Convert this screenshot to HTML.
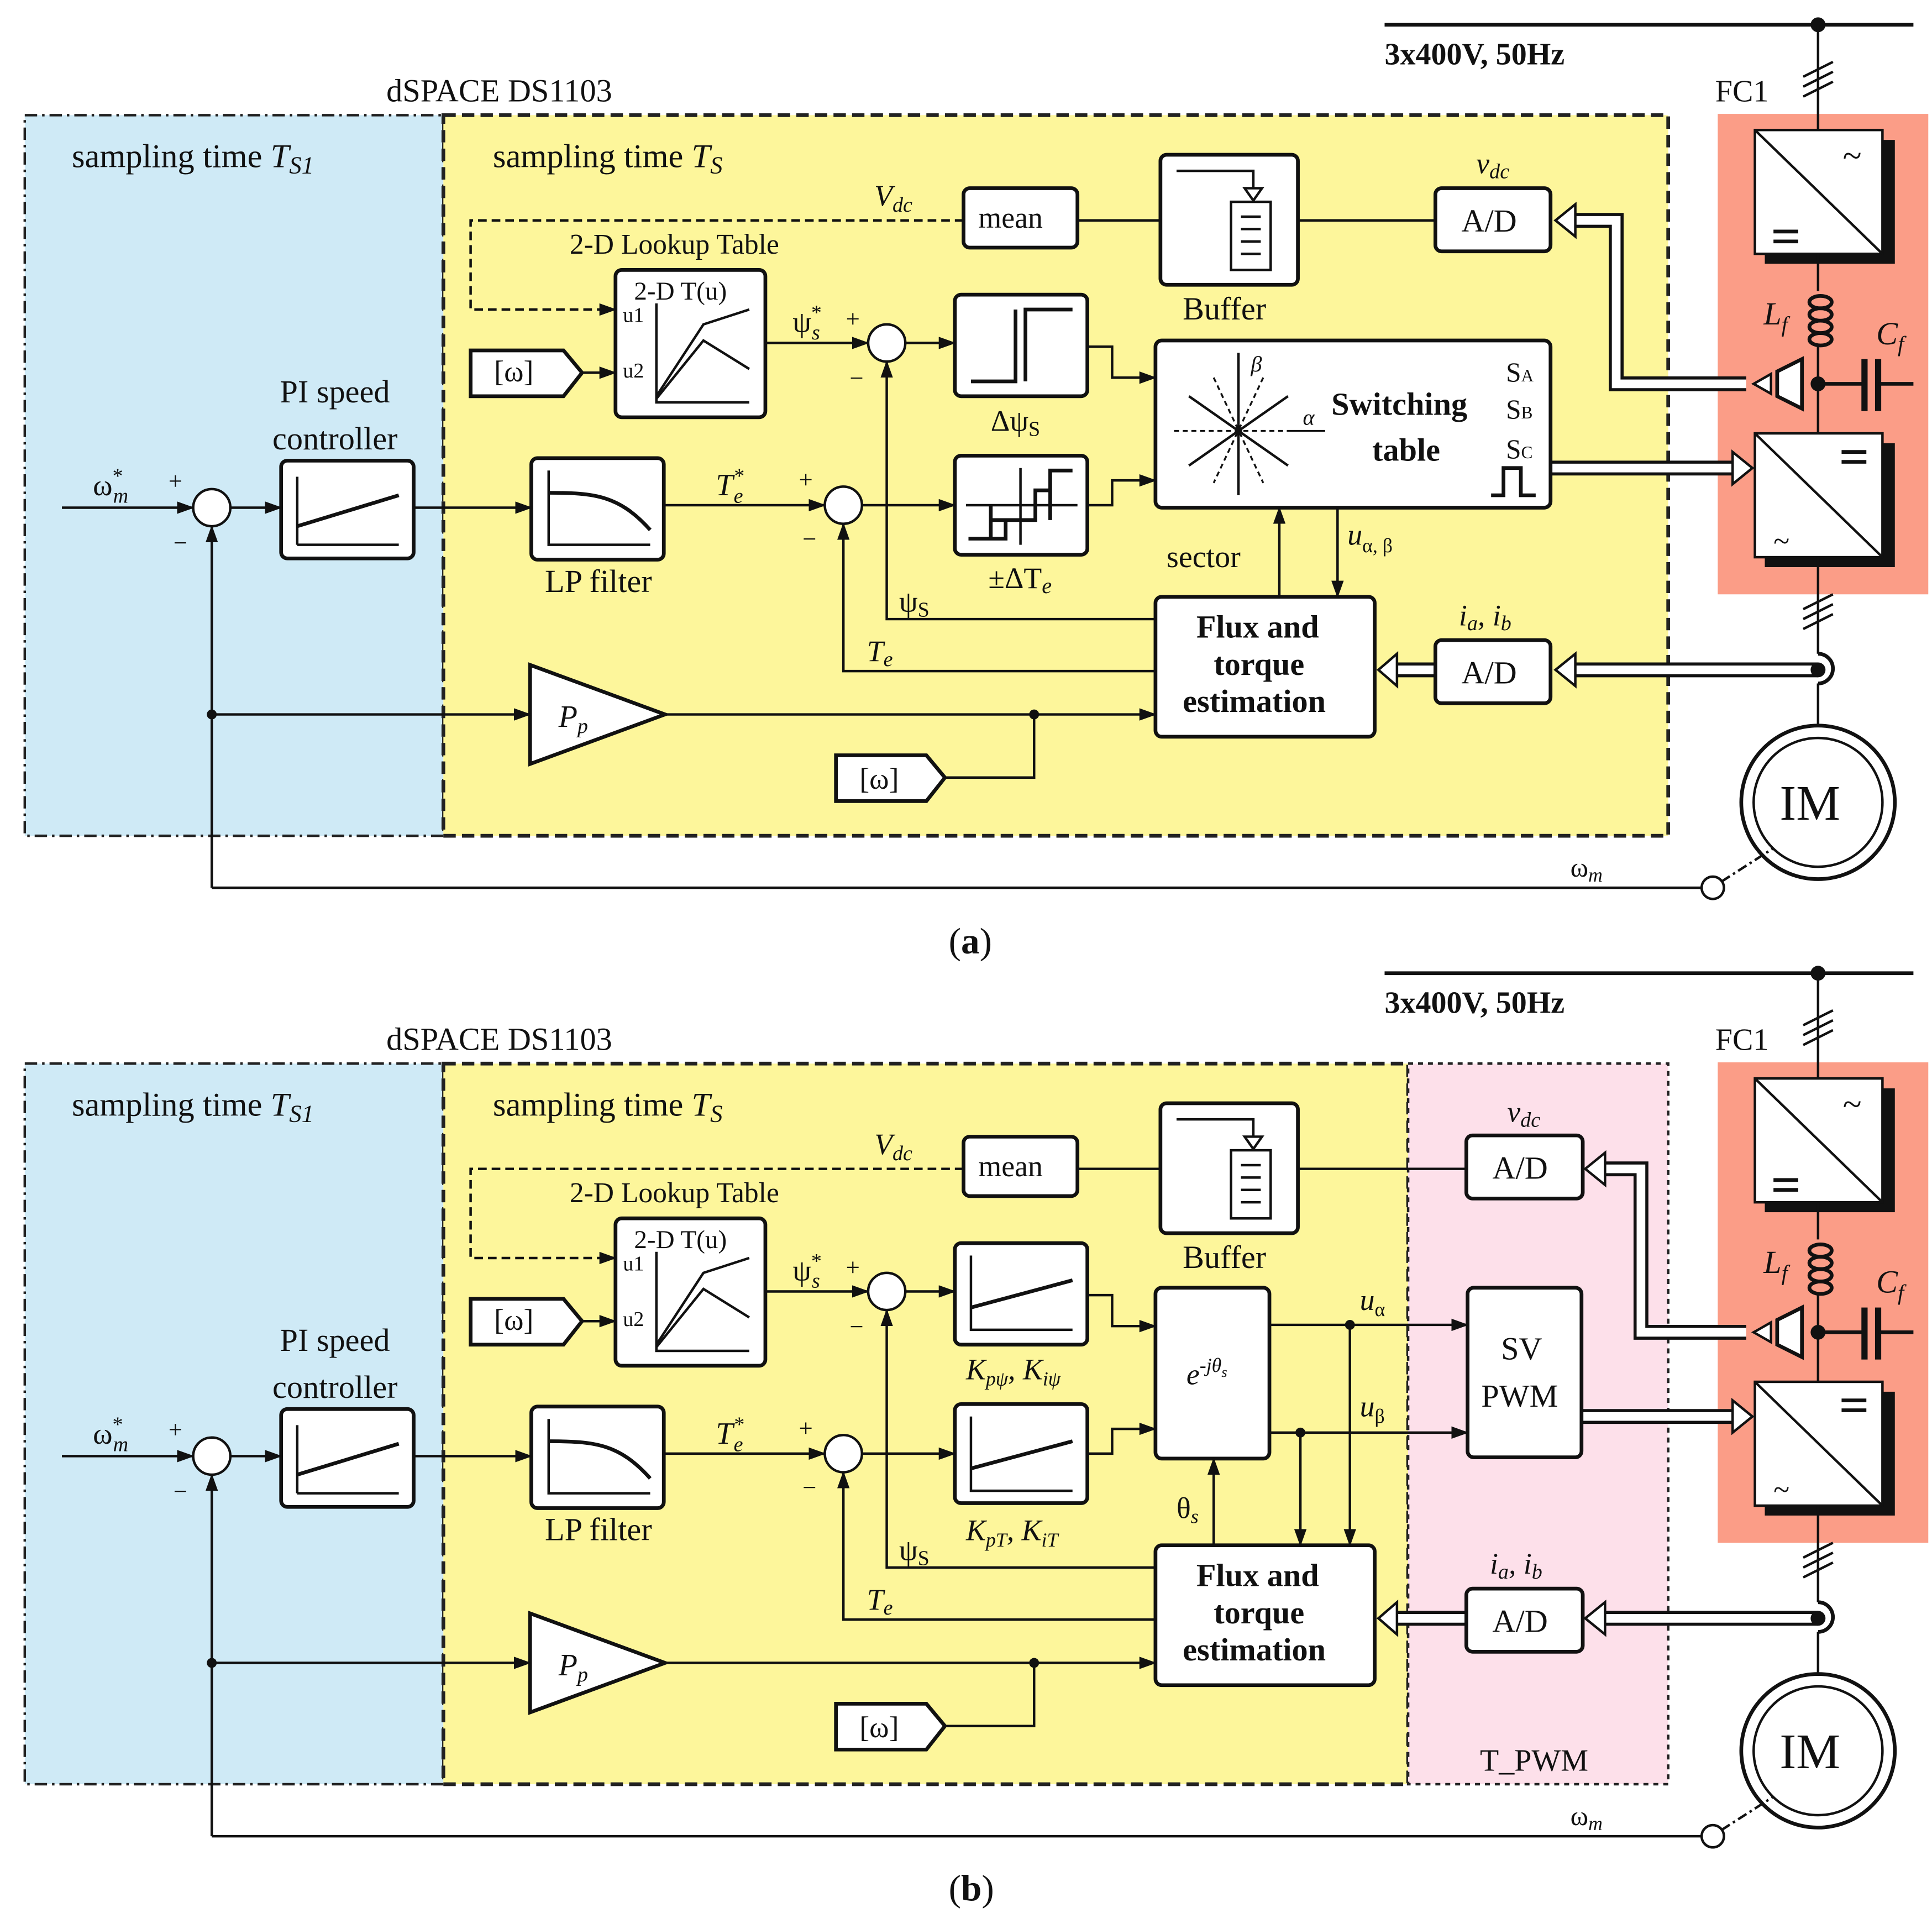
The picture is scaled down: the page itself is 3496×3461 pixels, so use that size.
<!DOCTYPE html>
<html><head><meta charset="utf-8"><style>
html,body{margin:0;padding:0;background:#fff;}
svg{display:block;}
text{font-family:"Liberation Serif",serif;fill:#111;}
.b{font-weight:bold;}
.i{font-style:italic;}
</style></head><body>
<svg width="3496" height="3461" viewBox="0 0 1560 1545" preserveAspectRatio="none" xmlns="http://www.w3.org/2000/svg">
<defs>
<marker id="ar" markerWidth="14" markerHeight="10" refX="13" refY="5" orient="auto" markerUnits="userSpaceOnUse"><polygon points="0,0 14,5 0,10" fill="#111"/></marker>
</defs>

<!-- ================= PANEL A ================= -->
<g id="pa" stroke-linecap="butt">
<rect x="20" y="93" width="338" height="582" fill="#cfeaf6" stroke="#222" stroke-width="2" stroke-dasharray="10,4,2,4"/>
<rect x="358" y="93" width="989" height="582" fill="#fdf69b" stroke="#222" stroke-width="3" stroke-dasharray="10,5"/>
<rect x="1387" y="92" width="170" height="388" fill="#fb9d87"/>
<line x1="1118" y1="20" x2="1545" y2="20" stroke="#111" stroke-width="3"/>
<circle cx="1468" cy="20" r="6" fill="#111"/>
<line x1="1468" y1="20" x2="1468" y2="105" stroke="#111" stroke-width="2"/>
<g stroke="#111" stroke-width="2"><line x1="1456" y1="62" x2="1480" y2="50"/><line x1="1456" y1="70" x2="1480" y2="58"/><line x1="1456" y1="78" x2="1480" y2="66"/></g>
<!-- converters -->
<rect x="1425" y="113" width="105" height="100" fill="#111"/>
<rect x="1417" y="105" width="103" height="100" fill="#fff" stroke="#111" stroke-width="2"/>
<line x1="1417" y1="105" x2="1520" y2="205" stroke="#111" stroke-width="2"/>
<text x="1488" y="135" font-size="28">~</text>
<g stroke="#111" stroke-width="3"><line x1="1432" y1="187" x2="1452" y2="187"/><line x1="1432" y1="195" x2="1452" y2="195"/></g>
<line x1="1468" y1="205" x2="1468" y2="235" stroke="#111" stroke-width="2"/>
<g fill="none" stroke="#111" stroke-width="3"><ellipse cx="1470" cy="244" rx="9" ry="5"/><ellipse cx="1470" cy="254" rx="9" ry="5"/><ellipse cx="1470" cy="264" rx="9" ry="5"/><ellipse cx="1470" cy="274" rx="9" ry="5"/></g>
<line x1="1468" y1="280" x2="1468" y2="350" stroke="#111" stroke-width="2"/>
<circle cx="1468" cy="310" r="6" fill="#111"/>
<line x1="1468" y1="310" x2="1505" y2="310" stroke="#111" stroke-width="3"/>
<rect x="1503" y="290" width="5" height="42" fill="#111"/><rect x="1514" y="290" width="5" height="42" fill="#111"/>
<line x1="1517" y1="310" x2="1545" y2="310" stroke="#111" stroke-width="3"/>
<polygon points="1416,310 1430,302 1430,318" fill="#fff" stroke="#111" stroke-width="2"/>
<polygon points="1435,300 1455,290 1455,330 1435,320" fill="#fff" stroke="#111" stroke-width="3"/>
<text x="1424" y="262" font-size="26" class="i">L<tspan font-size="18" dy="6">f</tspan></text>
<text x="1515" y="278" font-size="26" class="i">C<tspan font-size="18" dy="6">f</tspan></text>
<rect x="1425" y="358" width="105" height="100" fill="#111"/>
<rect x="1417" y="350" width="103" height="100" fill="#fff" stroke="#111" stroke-width="2"/>
<line x1="1417" y1="350" x2="1520" y2="450" stroke="#111" stroke-width="2"/>
<g stroke="#111" stroke-width="3"><line x1="1487" y1="365" x2="1507" y2="365"/><line x1="1487" y1="373" x2="1507" y2="373"/></g>
<text x="1432" y="445" font-size="24">~</text>
<line x1="1468" y1="450" x2="1468" y2="528" stroke="#111" stroke-width="2"/>
<g stroke="#111" stroke-width="2"><line x1="1456" y1="492" x2="1480" y2="480"/><line x1="1456" y1="500" x2="1480" y2="488"/><line x1="1456" y1="508" x2="1480" y2="496"/></g>
<path d="M1468,528 A12,12 0 0 1 1468,552" fill="none" stroke="#111" stroke-width="3"/>
<line x1="1468" y1="552" x2="1468" y2="586" stroke="#111" stroke-width="2"/>
<circle cx="1468" cy="648" r="62" fill="#fff" stroke="#111" stroke-width="3"/>
<circle cx="1468" cy="648" r="52" fill="none" stroke="#111" stroke-width="2"/>
<text x="1437" y="662" font-size="40">IM</text>
<!-- hollow arrows -->
<g fill="none" stroke-linejoin="miter">
<path d="M1410,310 H1305 V178 H1270" stroke="#111" stroke-width="12"/>
<path d="M1410,310 H1305 V178 H1270" stroke="#fff" stroke-width="7"/>
<path d="M1253,378 H1400" stroke="#111" stroke-width="12"/>
<path d="M1253,378 H1400" stroke="#fff" stroke-width="7"/>
<path d="M1468,541 H1270" stroke="#111" stroke-width="12"/>
<path d="M1468,541 H1270" stroke="#fff" stroke-width="7"/>
<path d="M1159,541 H1125" stroke="#111" stroke-width="12"/>
<path d="M1159,541 H1125" stroke="#fff" stroke-width="7"/>
</g>
<polygon points="1256,178 1272,165 1272,191" fill="#fff" stroke="#111" stroke-width="2"/>
<polygon points="1415,378 1399,365 1399,391" fill="#fff" stroke="#111" stroke-width="2"/>
<polygon points="1256,541 1272,528 1272,554" fill="#fff" stroke="#111" stroke-width="2"/>
<polygon points="1113,541 1128,528 1128,554" fill="#fff" stroke="#111" stroke-width="2"/>
<circle cx="1468" cy="541" r="6" fill="#111"/>

<text x="1118" y="52" font-size="25" class="b">3x400V, 50Hz</text>
<text x="1385" y="82" font-size="25">FC1</text>
<text x="312" y="82" font-size="26">dSPACE DS1103</text>
<text x="58" y="135" font-size="27">sampling time <tspan class="i">T</tspan><tspan class="i" font-size="20" dy="5">S1</tspan></text>
<text x="398" y="135" font-size="27">sampling time <tspan class="i">T</tspan><tspan class="i" font-size="20" dy="5">S</tspan></text>

<!-- blocks -->
<g fill="#fff" stroke="#111" stroke-width="3">
<rect x="778" y="152" width="92" height="48" rx="5"/>
<rect x="937" y="125" width="111" height="105" rx="5"/>
<rect x="1159" y="152" width="93" height="51" rx="5"/>
<rect x="497" y="218" width="121" height="119" rx="5"/>
<rect x="771" y="238" width="107" height="82" rx="5"/>
<rect x="933" y="275" width="319" height="135" rx="5"/>
<rect x="227" y="372" width="107" height="79" rx="5"/>
<rect x="429" y="370" width="107" height="82" rx="5"/>
<rect x="771" y="368" width="107" height="80" rx="5"/>
<rect x="933" y="482" width="177" height="113" rx="5"/>
<rect x="1159" y="517" width="93" height="51" rx="5"/>
<polygon points="428,537 537,577 428,617"/>
<polygon points="380,283 455,283 470,301 455,320 380,320"/>
<polygon points="675,610 748,610 763,628 748,647 675,647"/>
</g>
<text x="790" y="184" font-size="24">mean</text>
<g stroke="#111" stroke-width="2" fill="none"><path d="M950,138 H1012 V160"/><polygon points="1005,152 1019,152 1012,162" fill="#fff"/><rect x="994" y="163" width="32" height="55" fill="#fff"/><line x1="1002" y1="175" x2="1018" y2="175"/><line x1="1002" y1="185" x2="1018" y2="185"/><line x1="1002" y1="195" x2="1018" y2="195"/><line x1="1002" y1="205" x2="1018" y2="205"/></g>
<text x="955" y="258" font-size="26">Buffer</text>
<text x="1180" y="187" font-size="26">A/D</text>
<text x="1192" y="140" font-size="24" class="i">v<tspan font-size="17" dy="4">dc</tspan></text>
<text x="1180" y="552" font-size="26">A/D</text>
<text x="1178" y="505" font-size="24" class="i">i<tspan font-size="17" dy="4">a</tspan><tspan dy="-4">, i</tspan><tspan font-size="17" dy="4">b</tspan></text>
<text x="460" y="205" font-size="23">2-D Lookup Table</text>
<text x="512" y="242" font-size="21">2-D T(u)</text>
<text x="503" y="260" font-size="17">u1</text><text x="503" y="305" font-size="17">u2</text>
<g stroke="#111" stroke-width="2" fill="none"><path d="M530,245 V325 H605"/><path d="M530,320 L568,262 L605,250"/><path d="M530,322 L568,275 L605,298"/></g>
<text x="399" y="308" font-size="24">[ω]</text>
<text x="694" y="637" font-size="24">[ω]</text>
<g stroke="#111" stroke-width="3" fill="none"><path d="M784,308 H820 V250"/><path d="M828,308 V250 H866"/></g>
<text x="800" y="348" font-size="24">Δψ<tspan font-size="17" dy="4">S</tspan></text>
<g stroke="#111" stroke-width="2" fill="none"><line x1="780" y1="408" x2="870" y2="408"/><line x1="824" y1="378" x2="824" y2="440"/></g>
<g stroke="#111" stroke-width="3" fill="none"><path d="M782,435 H812 V420 M800,435 V408 M800,420 H836 V396 H848 V380 H866 M836,408 V396 M848,396 V420"/></g>
<text x="798" y="475" font-size="24">±ΔT<tspan class="i" font-size="18" dy="4">e</tspan></text>
<!-- switching table -->
<g stroke="#111" stroke-width="1.5" fill="none">
<line x1="1000" y1="285" x2="1000" y2="400" stroke-width="2"/>
<line x1="948" y1="348" x2="1040" y2="348" stroke-dasharray="4,3"/>
<line x1="1040" y1="348" x2="1070" y2="348"/>
<line x1="960" y1="320" x2="1040" y2="376" stroke-width="2"/>
<line x1="960" y1="376" x2="1040" y2="320" stroke-width="2"/>
<line x1="980" y1="305" x2="1020" y2="390" stroke-dasharray="4,3"/>
<line x1="1020" y1="305" x2="980" y2="390" stroke-dasharray="4,3"/>
</g>
<circle cx="1000" cy="348" r="3" fill="#111"/>
<text x="1010" y="300" font-size="18" class="i">β</text>
<text x="1052" y="343" font-size="18" class="i">α</text>
<text x="1075" y="335" font-size="26" class="b">Switching</text>
<text x="1108" y="372" font-size="26" class="b">table</text>
<text x="1216" y="308" font-size="22">S<tspan font-size="14">A</tspan></text>
<text x="1216" y="338" font-size="22">S<tspan font-size="14">B</tspan></text>
<text x="1216" y="370" font-size="22">S<tspan font-size="14">C</tspan></text>
<path d="M1204,400 H1214 V378 H1228 V400 H1240" stroke="#111" stroke-width="3" fill="none"/>
<g stroke="#111" stroke-width="2" fill="none"><path d="M240,440 H322"/><path d="M240,440 V385"/><path d="M240,425 L322,400" stroke-width="3"/></g>
<g stroke="#111" stroke-width="2" fill="none"><path d="M443,380 V440 H525"/><path d="M443,398 C480,398 500,400 525,428" stroke-width="3"/></g>
<text x="440" y="478" font-size="26">LP filter</text>
<text x="226" y="325" font-size="26">PI speed</text>
<text x="220" y="363" font-size="26">controller</text>
<text x="451" y="587" font-size="25" class="i">P<tspan font-size="17" dy="5">p</tspan></text>
<text x="966" y="515" font-size="26" class="b">Flux and</text>
<text x="980" y="545" font-size="26" class="b">torque</text>
<text x="955" y="575" font-size="26" class="b">estimation</text>
<!-- sums -->
<g fill="#fff" stroke="#111" stroke-width="2"><circle cx="171" cy="410" r="15"/><circle cx="681" cy="408" r="15"/><circle cx="716" cy="277" r="15"/></g>
<g stroke="#111" stroke-width="2" fill="none" marker-end="url(#ar)">
<line x1="50" y1="410" x2="156" y2="410"/>
<line x1="186" y1="410" x2="227" y2="410"/>
<line x1="334" y1="410" x2="429" y2="410"/>
<line x1="536" y1="408" x2="666" y2="408"/>
<line x1="696" y1="408" x2="771" y2="408"/>
<line x1="618" y1="277" x2="701" y2="277"/>
<line x1="731" y1="277" x2="771" y2="277"/>
<line x1="470" y1="301" x2="497" y2="301"/>
<path d="M778,178 H380 V250 H497" stroke-dasharray="7,4"/>
<path d="M878,280 H898 V305 H933"/>
<path d="M878,408 H898 V388 H933"/>
<path d="M933,500 H716 V292"/>
<path d="M933,542 H681 V423"/>
<line x1="537" y1="577" x2="933" y2="577"/>
<path d="M171,717 V425"/>
<line x1="171" y1="577" x2="428" y2="577"/>
<line x1="1033" y1="482" x2="1033" y2="410"/>
<line x1="1080" y1="410" x2="1080" y2="482"/>
</g>
<g stroke="#111" stroke-width="2" fill="none">
<path d="M763,628 H835 V577"/>
<line x1="870" y1="178" x2="937" y2="178"/>
<line x1="1048" y1="178" x2="1159" y2="178"/>
<line x1="171" y1="717" x2="1374" y2="717"/>
<line x1="1390" y1="712" x2="1432" y2="685" stroke-dasharray="8,3,2,3"/>
</g>
<circle cx="835" cy="577" r="4" fill="#111"/><circle cx="171" cy="577" r="4" fill="#111"/>
<circle cx="1383" cy="717" r="9" fill="#fff" stroke="#111" stroke-width="2"/>
<text x="75" y="400" font-size="24">ω<tspan font-size="17" dy="-10">*</tspan><tspan class="i" font-size="17" dx="-8" dy="16">m</tspan></text>
<text x="136" y="395" font-size="20">+</text><text x="140" y="445" font-size="20">−</text>
<text x="645" y="394" font-size="20">+</text><text x="648" y="442" font-size="20">−</text>
<text x="683" y="264" font-size="20">+</text><text x="686" y="312" font-size="20">−</text>
<text x="578" y="400" font-size="25" class="i">T<tspan font-size="17" dy="-10">*</tspan><tspan font-size="17" dx="-8" dy="16">e</tspan></text>
<text x="640" y="268" font-size="24">ψ<tspan font-size="17" dy="-10">*</tspan><tspan class="i" font-size="17" dx="-8" dy="16">s</tspan></text>
<text x="706" y="166" font-size="24" class="i">V<tspan font-size="17" dy="5">dc</tspan></text>
<text x="726" y="494" font-size="24">ψ<tspan font-size="17" dy="4">S</tspan></text>
<text x="700" y="534" font-size="24" class="i">T<tspan font-size="17" dy="4">e</tspan></text>
<text x="942" y="458" font-size="25">sector</text>
<text x="1088" y="440" font-size="24" class="i">u<tspan font-size="16" font-style="normal" dy="6">α, β</tspan></text>
<text x="1268" y="708" font-size="22">ω<tspan class="i" font-size="16" dy="4">m</tspan></text>
<text x="766" y="770" font-size="30">(<tspan class="b">a</tspan>)</text>
</g>

<!-- ================= PANEL B ================= -->
<g transform="translate(0,766)">
<rect x="20" y="93" width="338" height="582" fill="#cfeaf6" stroke="#222" stroke-width="2" stroke-dasharray="10,4,2,4"/>
<rect x="358" y="93" width="779" height="582" fill="#fdf69b" stroke="#222" stroke-width="3" stroke-dasharray="10,5"/>
<rect x="1137" y="93" width="210" height="582" fill="#fde0ea" stroke="#222" stroke-width="2" stroke-dasharray="4,4"/>
<rect x="1387" y="92" width="170" height="388" fill="#fb9d87"/>
<line x1="1118" y1="20" x2="1545" y2="20" stroke="#111" stroke-width="3"/>
<circle cx="1468" cy="20" r="6" fill="#111"/>
<line x1="1468" y1="20" x2="1468" y2="105" stroke="#111" stroke-width="2"/>
<g stroke="#111" stroke-width="2"><line x1="1456" y1="62" x2="1480" y2="50"/><line x1="1456" y1="70" x2="1480" y2="58"/><line x1="1456" y1="78" x2="1480" y2="66"/></g>
<rect x="1425" y="113" width="105" height="100" fill="#111"/>
<rect x="1417" y="105" width="103" height="100" fill="#fff" stroke="#111" stroke-width="2"/>
<line x1="1417" y1="105" x2="1520" y2="205" stroke="#111" stroke-width="2"/>
<text x="1488" y="135" font-size="28">~</text>
<g stroke="#111" stroke-width="3"><line x1="1432" y1="187" x2="1452" y2="187"/><line x1="1432" y1="195" x2="1452" y2="195"/></g>
<line x1="1468" y1="205" x2="1468" y2="235" stroke="#111" stroke-width="2"/>
<g fill="none" stroke="#111" stroke-width="3"><ellipse cx="1470" cy="244" rx="9" ry="5"/><ellipse cx="1470" cy="254" rx="9" ry="5"/><ellipse cx="1470" cy="264" rx="9" ry="5"/><ellipse cx="1470" cy="274" rx="9" ry="5"/></g>
<line x1="1468" y1="280" x2="1468" y2="350" stroke="#111" stroke-width="2"/>
<circle cx="1468" cy="310" r="6" fill="#111"/>
<line x1="1468" y1="310" x2="1505" y2="310" stroke="#111" stroke-width="3"/>
<rect x="1503" y="290" width="5" height="42" fill="#111"/><rect x="1514" y="290" width="5" height="42" fill="#111"/>
<line x1="1517" y1="310" x2="1545" y2="310" stroke="#111" stroke-width="3"/>
<polygon points="1416,310 1430,302 1430,318" fill="#fff" stroke="#111" stroke-width="2"/>
<polygon points="1435,300 1455,290 1455,330 1435,320" fill="#fff" stroke="#111" stroke-width="3"/>
<text x="1424" y="262" font-size="26" class="i">L<tspan font-size="18" dy="6">f</tspan></text>
<text x="1515" y="278" font-size="26" class="i">C<tspan font-size="18" dy="6">f</tspan></text>
<rect x="1425" y="358" width="105" height="100" fill="#111"/>
<rect x="1417" y="350" width="103" height="100" fill="#fff" stroke="#111" stroke-width="2"/>
<line x1="1417" y1="350" x2="1520" y2="450" stroke="#111" stroke-width="2"/>
<g stroke="#111" stroke-width="3"><line x1="1487" y1="365" x2="1507" y2="365"/><line x1="1487" y1="373" x2="1507" y2="373"/></g>
<text x="1432" y="445" font-size="24">~</text>
<line x1="1468" y1="450" x2="1468" y2="528" stroke="#111" stroke-width="2"/>
<g stroke="#111" stroke-width="2"><line x1="1456" y1="492" x2="1480" y2="480"/><line x1="1456" y1="500" x2="1480" y2="488"/><line x1="1456" y1="508" x2="1480" y2="496"/></g>
<path d="M1468,528 A12,12 0 0 1 1468,552" fill="none" stroke="#111" stroke-width="3"/>
<line x1="1468" y1="552" x2="1468" y2="586" stroke="#111" stroke-width="2"/>
<circle cx="1468" cy="648" r="62" fill="#fff" stroke="#111" stroke-width="3"/>
<circle cx="1468" cy="648" r="52" fill="none" stroke="#111" stroke-width="2"/>
<text x="1437" y="662" font-size="40">IM</text>
<g fill="none">
<path d="M1410,310 H1325 V178 H1295" stroke="#111" stroke-width="12"/>
<path d="M1410,310 H1325 V178 H1295" stroke="#fff" stroke-width="7"/>
<path d="M1277,378 H1400" stroke="#111" stroke-width="12"/>
<path d="M1277,378 H1400" stroke="#fff" stroke-width="7"/>
<path d="M1468,541 H1295" stroke="#111" stroke-width="12"/>
<path d="M1468,541 H1295" stroke="#fff" stroke-width="7"/>
<path d="M1184,541 H1125" stroke="#111" stroke-width="12"/>
<path d="M1184,541 H1125" stroke="#fff" stroke-width="7"/>
</g>
<polygon points="1280,178 1296,165 1296,191" fill="#fff" stroke="#111" stroke-width="2"/>
<polygon points="1415,378 1399,365 1399,391" fill="#fff" stroke="#111" stroke-width="2"/>
<polygon points="1280,541 1296,528 1296,554" fill="#fff" stroke="#111" stroke-width="2"/>
<polygon points="1113,541 1128,528 1128,554" fill="#fff" stroke="#111" stroke-width="2"/>
<circle cx="1468" cy="541" r="6" fill="#111"/>

<text x="1118" y="52" font-size="25" class="b">3x400V, 50Hz</text>
<text x="1385" y="82" font-size="25">FC1</text>
<text x="312" y="82" font-size="26">dSPACE DS1103</text>
<text x="58" y="135" font-size="27">sampling time <tspan class="i">T</tspan><tspan class="i" font-size="20" dy="5">S1</tspan></text>
<text x="398" y="135" font-size="27">sampling time <tspan class="i">T</tspan><tspan class="i" font-size="20" dy="5">S</tspan></text>
<text x="1195" y="664" font-size="25">T_PWM</text>

<g fill="#fff" stroke="#111" stroke-width="3">
<rect x="778" y="152" width="92" height="48" rx="5"/>
<rect x="937" y="125" width="111" height="105" rx="5"/>
<rect x="1184" y="151" width="94" height="51" rx="5"/>
<rect x="497" y="218" width="121" height="119" rx="5"/>
<rect x="771" y="238" width="107" height="82" rx="5"/>
<rect x="933" y="274" width="92" height="138" rx="5"/>
<rect x="1185" y="274" width="92" height="137" rx="5"/>
<rect x="227" y="372" width="107" height="79" rx="5"/>
<rect x="429" y="370" width="107" height="82" rx="5"/>
<rect x="771" y="368" width="107" height="80" rx="5"/>
<rect x="933" y="482" width="177" height="113" rx="5"/>
<rect x="1184" y="517" width="94" height="51" rx="5"/>
<polygon points="428,537 537,577 428,617"/>
<polygon points="380,283 455,283 470,301 455,320 380,320"/>
<polygon points="675,610 748,610 763,628 748,647 675,647"/>
</g>
<text x="790" y="184" font-size="24">mean</text>
<g stroke="#111" stroke-width="2" fill="none"><path d="M950,138 H1012 V160"/><polygon points="1005,152 1019,152 1012,162" fill="#fff"/><rect x="994" y="163" width="32" height="55" fill="#fff"/><line x1="1002" y1="175" x2="1018" y2="175"/><line x1="1002" y1="185" x2="1018" y2="185"/><line x1="1002" y1="195" x2="1018" y2="195"/><line x1="1002" y1="205" x2="1018" y2="205"/></g>
<text x="955" y="258" font-size="26">Buffer</text>
<text x="1205" y="186" font-size="26">A/D</text>
<text x="1217" y="140" font-size="24" class="i">v<tspan font-size="17" dy="4">dc</tspan></text>
<text x="1205" y="552" font-size="26">A/D</text>
<text x="1203" y="505" font-size="24" class="i">i<tspan font-size="17" dy="4">a</tspan><tspan dy="-4">, i</tspan><tspan font-size="17" dy="4">b</tspan></text>
<text x="1212" y="332" font-size="26">SV</text>
<text x="1196" y="370" font-size="26">PWM</text>
<text x="958" y="352" font-size="24" class="i">e<tspan font-size="16" dy="-10">-jθ</tspan><tspan font-size="12" dy="4">s</tspan></text>
<text x="460" y="205" font-size="23">2-D Lookup Table</text>
<text x="512" y="242" font-size="21">2-D T(u)</text>
<text x="503" y="260" font-size="17">u1</text><text x="503" y="305" font-size="17">u2</text>
<g stroke="#111" stroke-width="2" fill="none"><path d="M530,245 V325 H605"/><path d="M530,320 L568,262 L605,250"/><path d="M530,322 L568,275 L605,298"/></g>
<text x="399" y="308" font-size="24">[ω]</text>
<text x="694" y="637" font-size="24">[ω]</text>
<g stroke="#111" stroke-width="2" fill="none"><path d="M784,248 V308 H866"/><path d="M784,290 L866,268" stroke-width="3"/></g>
<g stroke="#111" stroke-width="2" fill="none"><path d="M784,378 V438 H866"/><path d="M784,420 L866,398" stroke-width="3"/></g>
<text x="780" y="348" font-size="24" class="i">K<tspan font-size="16" dy="5">pψ</tspan><tspan dy="-5">, K</tspan><tspan font-size="16" dy="5">iψ</tspan></text>
<text x="780" y="478" font-size="24" class="i">K<tspan font-size="16" dy="5">pT</tspan><tspan dy="-5">, K</tspan><tspan font-size="16" dy="5">iT</tspan></text>
<g stroke="#111" stroke-width="2" fill="none"><path d="M240,440 H322"/><path d="M240,440 V385"/><path d="M240,425 L322,400" stroke-width="3"/></g>
<g stroke="#111" stroke-width="2" fill="none"><path d="M443,380 V440 H525"/><path d="M443,398 C480,398 500,400 525,428" stroke-width="3"/></g>
<text x="440" y="478" font-size="26">LP filter</text>
<text x="226" y="325" font-size="26">PI speed</text>
<text x="220" y="363" font-size="26">controller</text>
<text x="451" y="587" font-size="25" class="i">P<tspan font-size="17" dy="5">p</tspan></text>
<text x="966" y="515" font-size="26" class="b">Flux and</text>
<text x="980" y="545" font-size="26" class="b">torque</text>
<text x="955" y="575" font-size="26" class="b">estimation</text>
<g fill="#fff" stroke="#111" stroke-width="2"><circle cx="171" cy="410" r="15"/><circle cx="681" cy="408" r="15"/><circle cx="716" cy="277" r="15"/></g>
<g stroke="#111" stroke-width="2" fill="none" marker-end="url(#ar)">
<line x1="50" y1="410" x2="156" y2="410"/>
<line x1="186" y1="410" x2="227" y2="410"/>
<line x1="334" y1="410" x2="429" y2="410"/>
<line x1="536" y1="408" x2="666" y2="408"/>
<line x1="696" y1="408" x2="771" y2="408"/>
<line x1="618" y1="277" x2="701" y2="277"/>
<line x1="731" y1="277" x2="771" y2="277"/>
<line x1="470" y1="301" x2="497" y2="301"/>
<path d="M778,178 H380 V250 H497" stroke-dasharray="7,4"/>
<path d="M878,280 H898 V305 H933"/>
<path d="M878,408 H898 V388 H933"/>
<path d="M933,500 H716 V292"/>
<path d="M933,542 H681 V423"/>
<line x1="537" y1="577" x2="933" y2="577"/>
<path d="M171,717 V425"/>
<line x1="171" y1="577" x2="428" y2="577"/>
<line x1="980" y1="482" x2="980" y2="412"/>
<line x1="1025" y1="304" x2="1185" y2="304"/>
<line x1="1025" y1="391" x2="1185" y2="391"/>
<line x1="1090" y1="304" x2="1090" y2="482"/>
<line x1="1050" y1="391" x2="1050" y2="482"/>
</g>
<g stroke="#111" stroke-width="2" fill="none">
<path d="M763,628 H835 V577"/>
<line x1="870" y1="178" x2="937" y2="178"/>
<line x1="1048" y1="178" x2="1184" y2="178"/>
<line x1="171" y1="717" x2="1374" y2="717"/>
<line x1="1390" y1="712" x2="1432" y2="685" stroke-dasharray="8,3,2,3"/>
</g>
<circle cx="835" cy="577" r="4" fill="#111"/><circle cx="171" cy="577" r="4" fill="#111"/>
<circle cx="1090" cy="304" r="4" fill="#111"/><circle cx="1050" cy="391" r="4" fill="#111"/>
<circle cx="1383" cy="717" r="9" fill="#fff" stroke="#111" stroke-width="2"/>
<text x="75" y="400" font-size="24">ω<tspan font-size="17" dy="-10">*</tspan><tspan class="i" font-size="17" dx="-8" dy="16">m</tspan></text>
<text x="136" y="395" font-size="20">+</text><text x="140" y="445" font-size="20">−</text>
<text x="645" y="394" font-size="20">+</text><text x="648" y="442" font-size="20">−</text>
<text x="683" y="264" font-size="20">+</text><text x="686" y="312" font-size="20">−</text>
<text x="578" y="400" font-size="25" class="i">T<tspan font-size="17" dy="-10">*</tspan><tspan font-size="17" dx="-8" dy="16">e</tspan></text>
<text x="640" y="268" font-size="24">ψ<tspan font-size="17" dy="-10">*</tspan><tspan class="i" font-size="17" dx="-8" dy="16">s</tspan></text>
<text x="706" y="166" font-size="24" class="i">V<tspan font-size="17" dy="5">dc</tspan></text>
<text x="726" y="494" font-size="24">ψ<tspan font-size="17" dy="4">S</tspan></text>
<text x="700" y="534" font-size="24" class="i">T<tspan font-size="17" dy="4">e</tspan></text>
<text x="950" y="460" font-size="24">θ<tspan class="i" font-size="16" dy="4">s</tspan></text>
<text x="1098" y="292" font-size="24" class="i">u<tspan font-size="16" font-style="normal" dy="5">α</tspan></text>
<text x="1098" y="378" font-size="24" class="i">u<tspan font-size="16" font-style="normal" dy="5">β</tspan></text>
<text x="1268" y="708" font-size="22">ω<tspan class="i" font-size="16" dy="4">m</tspan></text>
<text x="766" y="769" font-size="30">(<tspan class="b">b</tspan>)</text>
</g>
</svg>
</body></html>
